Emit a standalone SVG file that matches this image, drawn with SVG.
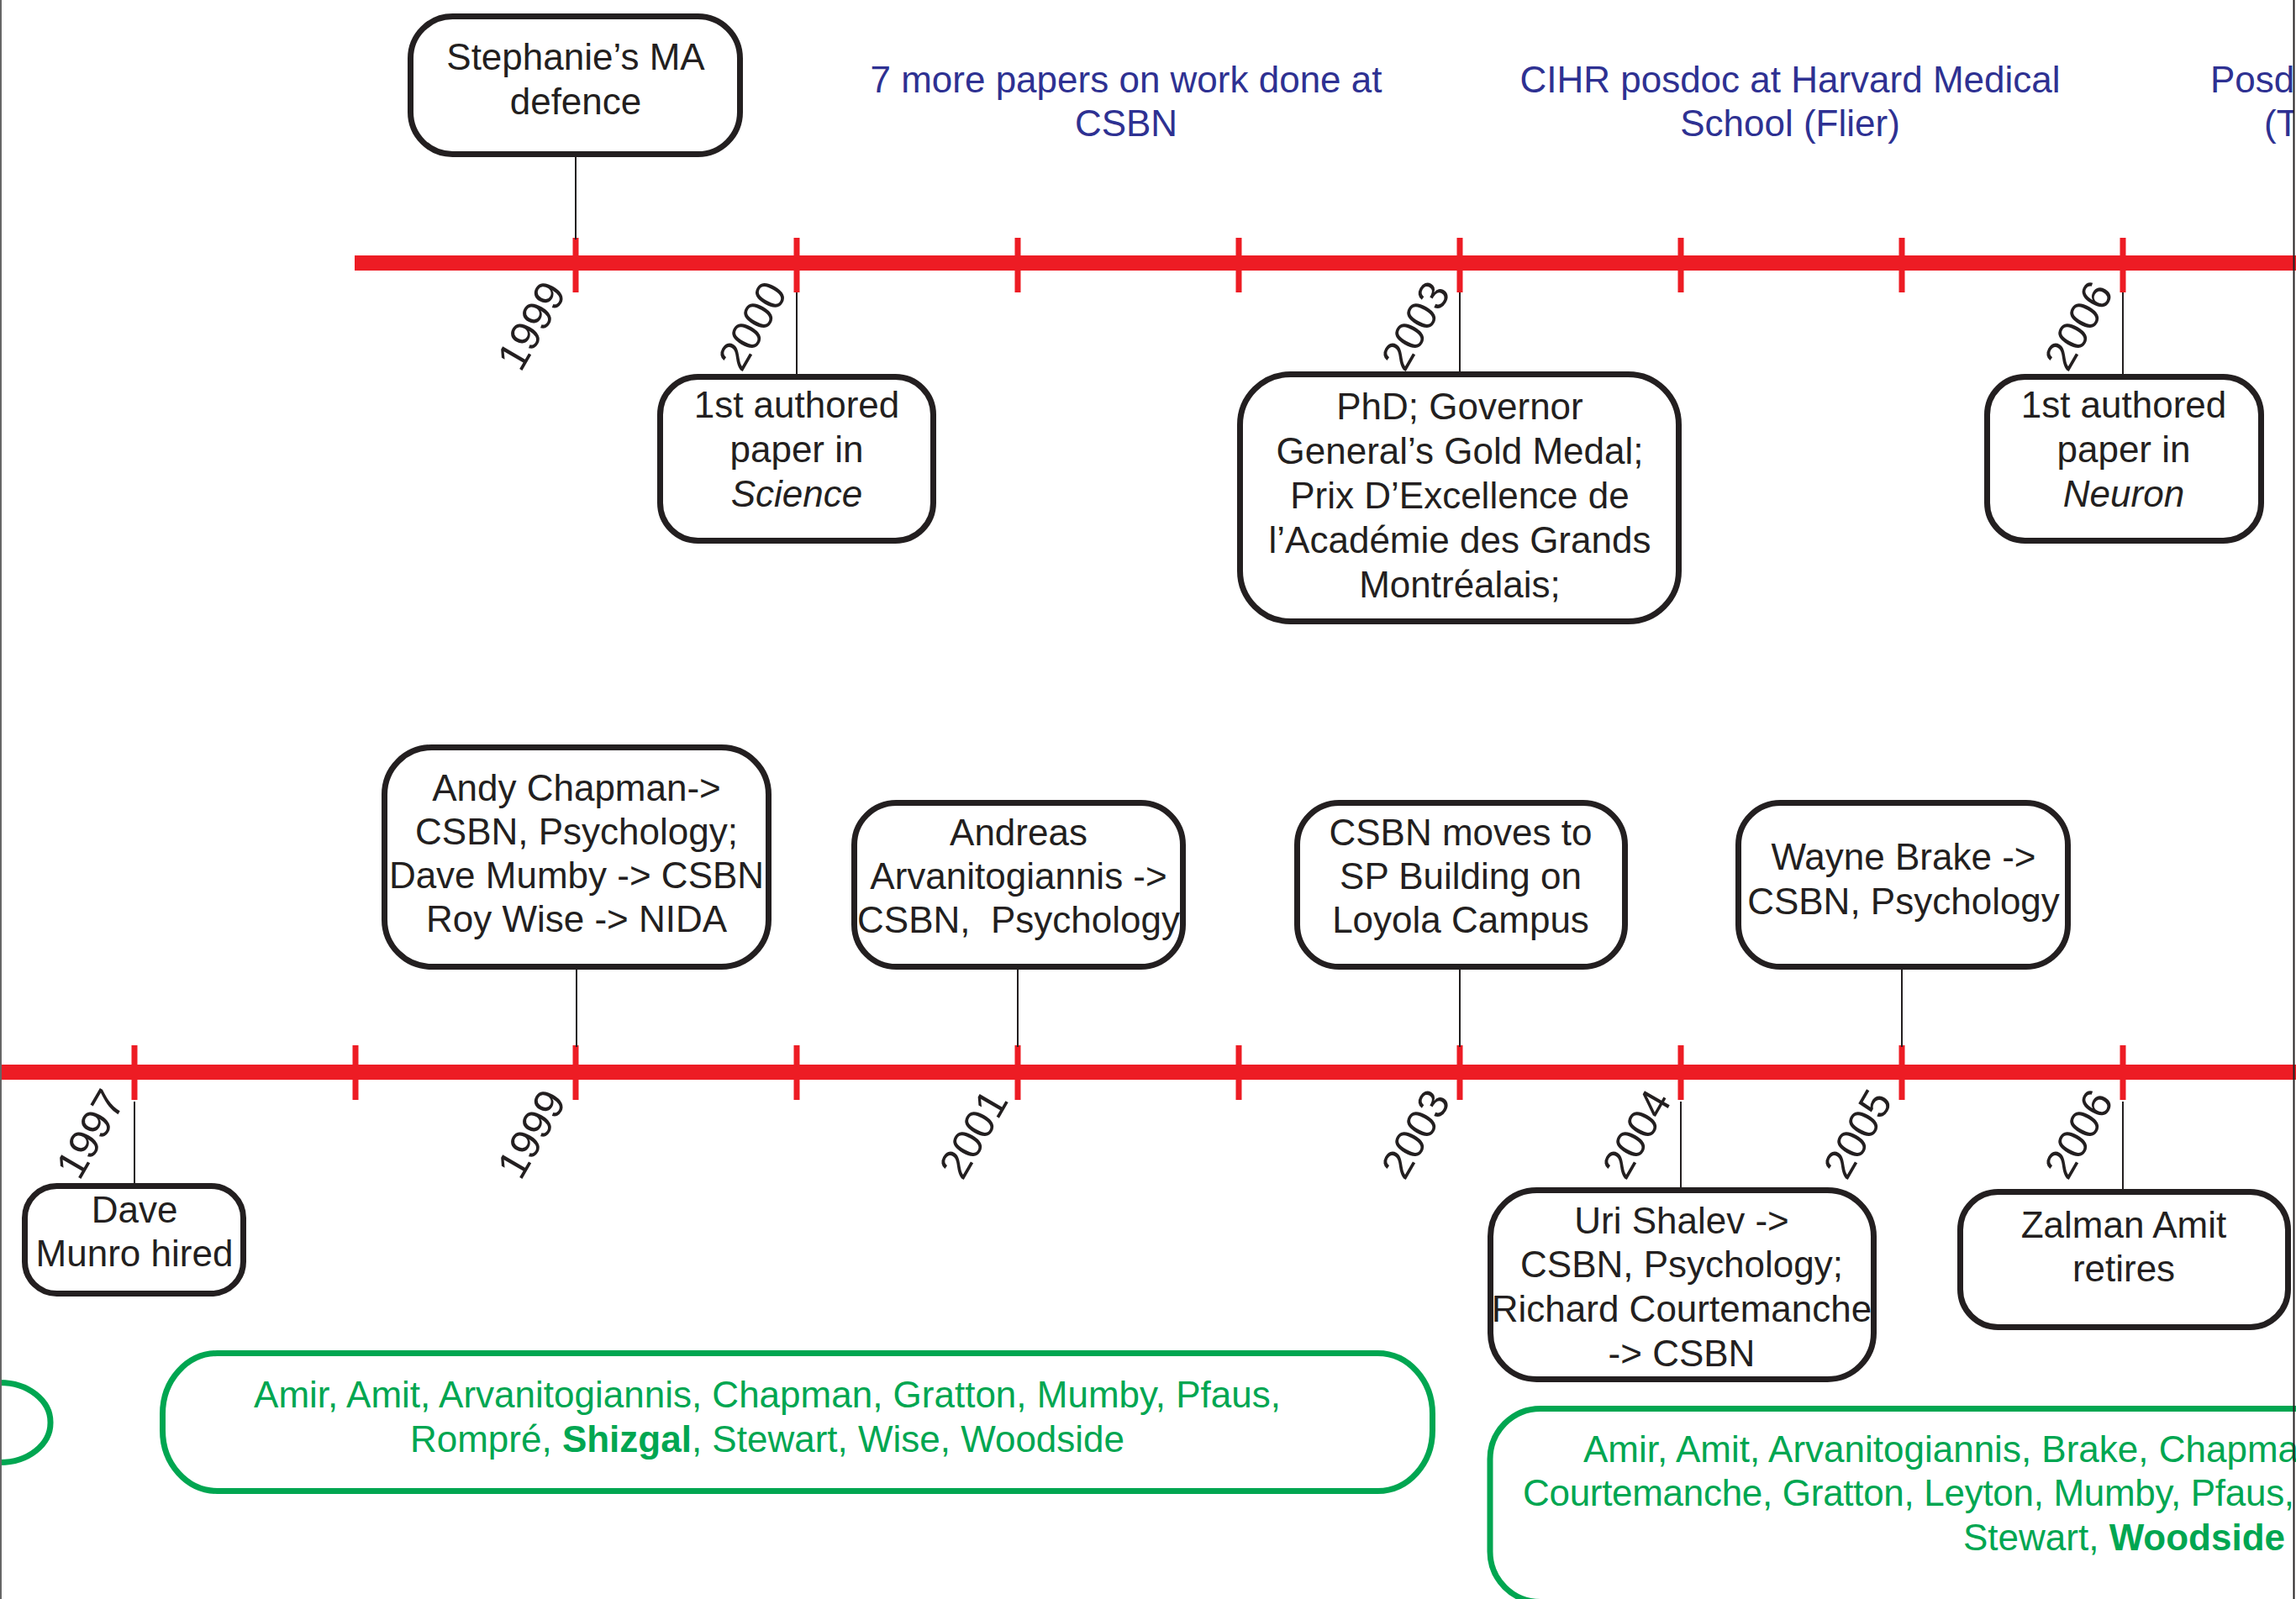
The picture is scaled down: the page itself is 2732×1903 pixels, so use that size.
<svg xmlns="http://www.w3.org/2000/svg" width="2732" height="1903" viewBox="0 0 2732 1903">
<defs>
<style>
.box{fill:#fff;stroke:#231F20;stroke-width:7}
.gbox{fill:none;stroke:#00A651;stroke-width:7}
.t{font-family:"Liberation Sans",Arial,sans-serif;font-size:44px;fill:#231F20;text-anchor:middle}
.blue{fill:#2E3192}
.green{fill:#00A651}
.yr{font-family:"Liberation Sans",Arial,sans-serif;font-size:50px;fill:#231F20;text-anchor:end}
.bar{fill:#ED1C24}
.conn{stroke:#231F20;stroke-width:2;fill:none}
.frame{stroke-width:2;fill:none}
</style>
<clipPath id="inner"><rect x="0" y="0" width="2729" height="1903"/></clipPath>
</defs>
<rect x="0" y="0" width="2732" height="1903" fill="#fff"/>

<g id="timeline-top">
<rect class="bar" x="422" y="304" width="2310" height="18"/>
<rect class="bar" x="681.5" y="283" width="7" height="65"/>
<rect class="bar" x="944.5" y="283" width="7" height="65"/>
<rect class="bar" x="1207.5" y="283" width="7" height="65"/>
<rect class="bar" x="1470.5" y="283" width="7" height="65"/>
<rect class="bar" x="1733.5" y="283" width="7" height="65"/>
<rect class="bar" x="1996.5" y="283" width="7" height="65"/>
<rect class="bar" x="2259.5" y="283" width="7" height="65"/>
<rect class="bar" x="2522.5" y="283" width="7" height="65"/>
<text class="yr" transform="translate(675,348) rotate(-60)">1999</text>
<text class="yr" transform="translate(938,348) rotate(-60)">2000</text>
<text class="yr" transform="translate(1727,348) rotate(-60)">2003</text>
<text class="yr" transform="translate(2516,348) rotate(-60)">2006</text>
</g>

<g id="timeline-bottom">
<rect class="bar" x="0" y="1267" width="2732" height="18"/>
<rect class="bar" x="156.5" y="1244" width="7" height="65"/>
<rect class="bar" x="419.5" y="1244" width="7" height="65"/>
<rect class="bar" x="681.5" y="1244" width="7" height="65"/>
<rect class="bar" x="944.5" y="1244" width="7" height="65"/>
<rect class="bar" x="1207.5" y="1244" width="7" height="65"/>
<rect class="bar" x="1470.5" y="1244" width="7" height="65"/>
<rect class="bar" x="1733.5" y="1244" width="7" height="65"/>
<rect class="bar" x="1996.5" y="1244" width="7" height="65"/>
<rect class="bar" x="2259.5" y="1244" width="7" height="65"/>
<rect class="bar" x="2522.5" y="1244" width="7" height="65"/>
<text class="yr" transform="translate(150,1310) rotate(-60)">1997</text>
<text class="yr" transform="translate(675,1310) rotate(-60)">1999</text>
<text class="yr" transform="translate(1201,1310) rotate(-60)">2001</text>
<text class="yr" transform="translate(1727,1310) rotate(-60)">2003</text>
<text class="yr" transform="translate(1990,1310) rotate(-60)">2004</text>
<text class="yr" transform="translate(2253,1310) rotate(-60)">2005</text>
<text class="yr" transform="translate(2516,1310) rotate(-60)">2006</text>
</g>

<g id="connectors">
<line class="conn" x1="685" y1="187" x2="685" y2="285"/>
<line class="conn" x1="948" y1="348" x2="948" y2="446"/>
<line class="conn" x1="1737" y1="348" x2="1737" y2="443"/>
<line class="conn" x1="2526" y1="348" x2="2526" y2="446"/>
<line class="conn" x1="686" y1="1154" x2="686" y2="1246"/>
<line class="conn" x1="1211" y1="1154" x2="1211" y2="1246"/>
<line class="conn" x1="1737" y1="1154" x2="1737" y2="1246"/>
<line class="conn" x1="2263" y1="1154" x2="2263" y2="1246"/>
<line class="conn" x1="160" y1="1311" x2="160" y2="1409"/>
<line class="conn" x1="2000" y1="1311" x2="2000" y2="1414"/>
<line class="conn" x1="2526" y1="1311" x2="2526" y2="1416"/>
</g>

<g id="node-ma-defence">
<rect class="box" x="488.5" y="19.5" width="392" height="164" rx="50" ry="50"/>
<text class="t" x="685" y="83">Stephanie’s MA</text>
<text class="t" x="685" y="136">defence</text>
</g>

<g id="node-science">
<rect class="box" x="785.5" y="448.5" width="325" height="195" rx="45" ry="45"/>
<text class="t" x="948" y="497">1st authored</text>
<text class="t" x="948" y="550">paper in</text>
<text class="t" x="948" y="603" font-style="italic">Science</text>
</g>

<g id="node-phd">
<rect class="box" x="1475.5" y="445.5" width="522" height="294" rx="60" ry="60"/>
<text class="t" x="1737" y="499">PhD; Governor</text>
<text class="t" x="1737" y="552">General’s Gold Medal;</text>
<text class="t" x="1737" y="605">Prix D’Excellence de</text>
<text class="t" x="1737" y="658">l’Académie des Grands</text>
<text class="t" x="1737" y="711">Montréalais;</text>
</g>

<g id="node-neuron">
<rect class="box" x="2364.5" y="448.5" width="326" height="195" rx="45" ry="45"/>
<text class="t" x="2527" y="497">1st authored</text>
<text class="t" x="2527" y="550">paper in</text>
<text class="t" x="2527" y="603" font-style="italic">Neuron</text>
</g>

<g id="note-papers">
<text class="t blue" x="1340" y="110">7 more papers on work done at</text>
<text class="t blue" x="1340" y="162">CSBN</text>
</g>

<g id="note-cihr">
<text class="t blue" x="2130" y="110">CIHR posdoc at Harvard Medical</text>
<text class="t blue" x="2130" y="162">School (Flier)</text>
</g>

<g id="note-posdoc" clip-path="url(#inner)">
<text class="t blue" x="2630" y="110" style="text-anchor:start">Posd</text>
<text class="t blue" x="2694" y="162" style="text-anchor:start">(T</text>
</g>

<g id="node-chapman">
<rect class="box" x="457.5" y="889.5" width="457" height="261" rx="56" ry="56"/>
<text class="t" x="686" y="953">Andy Chapman-&gt;</text>
<text class="t" x="686" y="1005">CSBN, Psychology;</text>
<text class="t" x="686" y="1057">Dave Mumby -&gt; CSBN</text>
<text class="t" x="686" y="1109">Roy Wise -&gt; NIDA</text>
</g>

<g id="node-arvanitogiannis">
<rect class="box" x="1016.5" y="955.5" width="391" height="195" rx="50" ry="50"/>
<text class="t" x="1212" y="1006">Andreas</text>
<text class="t" x="1212" y="1058">Arvanitogiannis -&gt;</text>
<text class="t" x="1212" y="1110">CSBN, &#160;Psychology</text>
</g>

<g id="node-csbn-moves">
<rect class="box" x="1543.5" y="955.5" width="390" height="195" rx="50" ry="50"/>
<text class="t" x="1738" y="1006">CSBN moves to</text>
<text class="t" x="1738" y="1058">SP Building on</text>
<text class="t" x="1738" y="1110">Loyola Campus</text>
</g>

<g id="node-brake">
<rect class="box" x="2068.5" y="955.5" width="392" height="195" rx="50" ry="50"/>
<text class="t" x="2265" y="1035">Wayne Brake -&gt;</text>
<text class="t" x="2265" y="1088">CSBN, Psychology</text>
</g>

<g id="node-munro">
<rect class="box" x="29.5" y="1411.5" width="260" height="128" rx="38" ry="38"/>
<text class="t" x="160" y="1455">Dave</text>
<text class="t" x="160" y="1507">Munro hired</text>
</g>

<g id="node-shalev">
<rect class="box" x="1773.5" y="1416.5" width="456" height="225" rx="55" ry="55"/>
<text class="t" x="2001" y="1468">Uri Shalev -&gt;</text>
<text class="t" x="2001" y="1520">CSBN, Psychology;</text>
<text class="t" x="2001" y="1573">Richard Courtemanche</text>
<text class="t" x="2001" y="1626">-&gt; CSBN</text>
</g>

<g id="node-amit">
<rect class="box" x="2332.5" y="1418.5" width="390" height="161" rx="45" ry="45"/>
<text class="t" x="2527" y="1473">Zalman Amit</text>
<text class="t" x="2527" y="1525">retires</text>
</g>

<g id="faculty-left">
<rect class="gbox" x="-400" y="1645.5" width="460" height="95" rx="60" ry="47"/>
</g>

<g id="faculty-1999">
<rect class="gbox" x="193.5" y="1610.5" width="1511" height="164" rx="65" ry="72"/>
<text class="t green" x="913" y="1675">Amir, Amit, Arvanitogiannis, Chapman, Gratton, Mumby, Pfaus,</text>
<text class="t green" x="913" y="1728">Rompré, <tspan font-weight="bold">Shizgal</tspan>, Stewart, Wise, Woodside</text>
</g>

<g id="faculty-2004">
<rect class="gbox" x="1773" y="1676.5" width="1200" height="230" rx="60" ry="60"/>
<text class="t green" x="1884" y="1740" style="text-anchor:start">Amir, Amit, Arvanitogiannis, Brake, Chapma</text>
<text class="t green" x="1812" y="1792" style="text-anchor:start;letter-spacing:-0.3px">Courtemanche, Gratton, Leyton, Mumby, Pfaus,</text>
<text class="t green" x="2336" y="1845" style="text-anchor:start">Stewart, <tspan font-weight="bold">Woodside</tspan></text>
</g>

<g id="frame">
<line class="frame" x1="1" y1="0" x2="1" y2="1903" stroke="#666"/>
<line class="frame" x1="2729.5" y1="0" x2="2729.5" y2="1903" stroke="#231F20"/>
</g>
</svg>
